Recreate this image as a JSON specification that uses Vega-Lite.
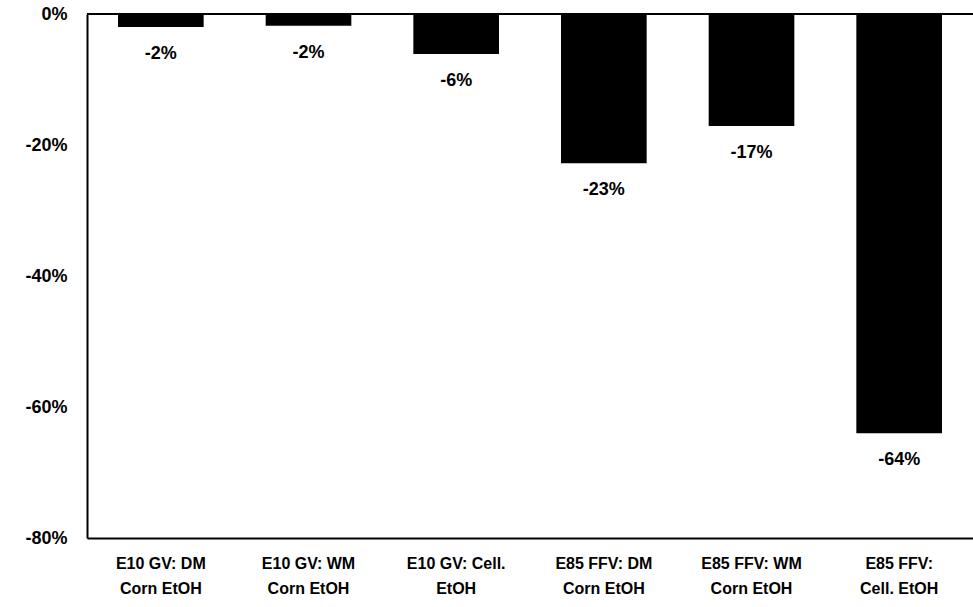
{
  "$schema": "https://vega.github.io/schema/vega-lite/v6.json",
  "width": 886,
  "height": 524,
  "autosize": {"type": "none"},
  "padding": {"left": 87, "top": 14, "right": 0, "bottom": 69},
  "background": "white",
  "config": {
    "view": {"stroke": null},
    "font": "Liberation Sans"
  },
  "data": {
    "values": [
      {"category": "E10 GV: DM|Corn EtOH", "value": -2, "label": "-2%"},
      {"category": "E10 GV: WM|Corn EtOH", "value": -1.8, "label": "-2%"},
      {"category": "E10 GV: Cell.|EtOH", "value": -6.1, "label": "-6%"},
      {"category": "E85 FFV: DM|Corn EtOH", "value": -22.8, "label": "-23%"},
      {"category": "E85 FFV: WM|Corn EtOH", "value": -17.1, "label": "-17%"},
      {"category": "E85 FFV:|Cell. EtOH", "value": -64, "label": "-64%"}
    ]
  },
  "encoding": {
    "x": {
      "field": "category",
      "type": "nominal",
      "sort": null,
      "scale": {"paddingInner": 0.42, "paddingOuter": 0.21},
      "axis": {
        "title": null,
        "orient": "bottom",
        "labelAngle": 0,
        "labelExpr": "split(datum.label, '|')",
        "labelFont": "Liberation Sans",
        "labelFontWeight": "bold",
        "labelFontSize": 16,
        "labelLineHeight": 25,
        "labelColor": "black",
        "labelPadding": 17,
        "ticks": false,
        "domainColor": "black",
        "domainWidth": 2,
        "labelLimit": 200
      }
    },
    "y": {
      "field": "value",
      "type": "quantitative",
      "scale": {"domain": [-80, 0], "nice": false},
      "axis": {
        "title": null,
        "values": [0, -20, -40, -60, -80],
        "labelExpr": "datum.value + '%'",
        "labelFont": "Liberation Sans",
        "labelFontWeight": "bold",
        "labelFontSize": 18,
        "labelColor": "black",
        "labelPadding": 20,
        "ticks": false,
        "grid": false,
        "domainColor": "black",
        "domainWidth": 2
      }
    }
  },
  "layer": [
    {"mark": {"type": "bar", "color": "black"}},
    {
      "mark": {"type": "rule", "color": "black", "strokeWidth": 2},
      "encoding": {"y": {"datum": 0}, "x": {"value": 0}, "x2": {"value": 886}}
    },
    {
      "mark": {"type": "text", "baseline": "middle", "align": "center", "dy": 27, "fontSize": 18, "fontWeight": "bold", "font": "Liberation Sans", "color": "black"},
      "encoding": {"text": {"field": "label"}}
    }
  ]
}
